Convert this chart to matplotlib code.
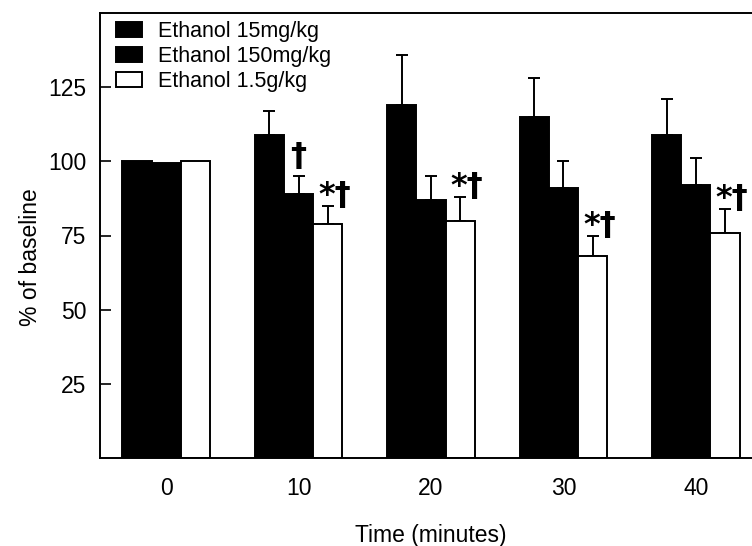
import numpy as np
import matplotlib
matplotlib.use("Agg")
import matplotlib.pyplot as plt

plt.rcParams["font.family"] = ["Liberation Sans", "DejaVu Sans"]

times = ["0", "10", "20", "30", "40"]
labels = ["Ethanol 15mg/kg", "Ethanol 150mg/kg", "Ethanol 1.5g/kg"]

# % of baseline, upper SEM
low = [100, 109, 119, 115, 109]
low_err = [0, 8, 17, 13, 12]
mid = [99.5, 89, 87, 91, 92]
mid_err = [0, 6, 8, 9, 9]
high = [100, 79, 80, 68, 76]
high_err = [0, 6, 8, 7, 8]

# significance marks: (time index, series index, text)
marks = [(1, 1, "\u2020"), (1, 2, "*\u2020"), (2, 2, "*\u2020"),
         (3, 2, "*\u2020"), (4, 2, "*\u2020")]

values = [low, mid, high]
errors = [low_err, mid_err, high_err]
faces = ["black", "black", "white"]

fig = plt.figure(figsize=(7.52, 5.46), dpi=100)
ax = fig.add_axes([100 / 752, 88 / 546, 662 / 752, 445 / 546])

x = np.arange(len(times))
w = 0.221
for i in range(3):
    pos = x + (i - 1) * w
    ax.bar(pos, values[i], width=w, color=faces[i], edgecolor="black",
           linewidth=1.4, label=labels[i], zorder=2)
    m = np.array(errors[i]) > 0
    up = np.array(errors[i])[m]
    ax.errorbar(pos[m], np.array(values[i])[m],
                yerr=[np.zeros(len(up)), up], fmt="none", ecolor="black",
                elinewidth=1.4, capsize=4.5, capthick=1.4, zorder=1)

for t, s, txt in marks:
    xp = x[t] + (s - 1) * w
    yp = values[s][t] + errors[s][t]
    if txt == "\u2020":
        ax.annotate(txt, (xp, yp), xytext=(0, 3), textcoords="offset points",
                    ha="center", va="bottom", fontsize=23, fontweight="bold",
                    family="DejaVu Sans")
    else:
        ax.annotate(txt, (xp, yp), xytext=(5, -4), textcoords="offset points",
                    ha="center", va="bottom", fontsize=23, fontweight="bold",
                    family="DejaVu Sans")

ax.set_xlim(-0.5, 4.5)
ax.set_ylim(0, 150)
ax.set_yticks([25, 50, 75, 100, 125])
ax.set_xticks(x)
ax.set_xticklabels(times)
ax.tick_params(axis="y", direction="in", length=8, width=1.2, pad=10,
               labelsize=16.5)
ax.tick_params(axis="x", length=0, pad=14, labelsize=16.5)
ax.spines["right"].set_visible(False)
for sp in ["left", "bottom", "top"]:
    ax.spines[sp].set_linewidth(1.4)

ax.set_xlabel("Time (minutes)", fontsize=16.5, labelpad=17)
ax.set_ylabel("% of baseline", fontsize=16.5)
ax.yaxis.set_label_coords(-0.087, 0.452)

ax.legend(loc="upper left", bbox_to_anchor=(0.024, 0.981), frameon=False,
          fontsize=15.5, borderpad=0, borderaxespad=0, labelspacing=0.18,
          handlelength=1.2, handleheight=0.7, handletextpad=0.75)

fig.savefig("out.png", dpi=100)
